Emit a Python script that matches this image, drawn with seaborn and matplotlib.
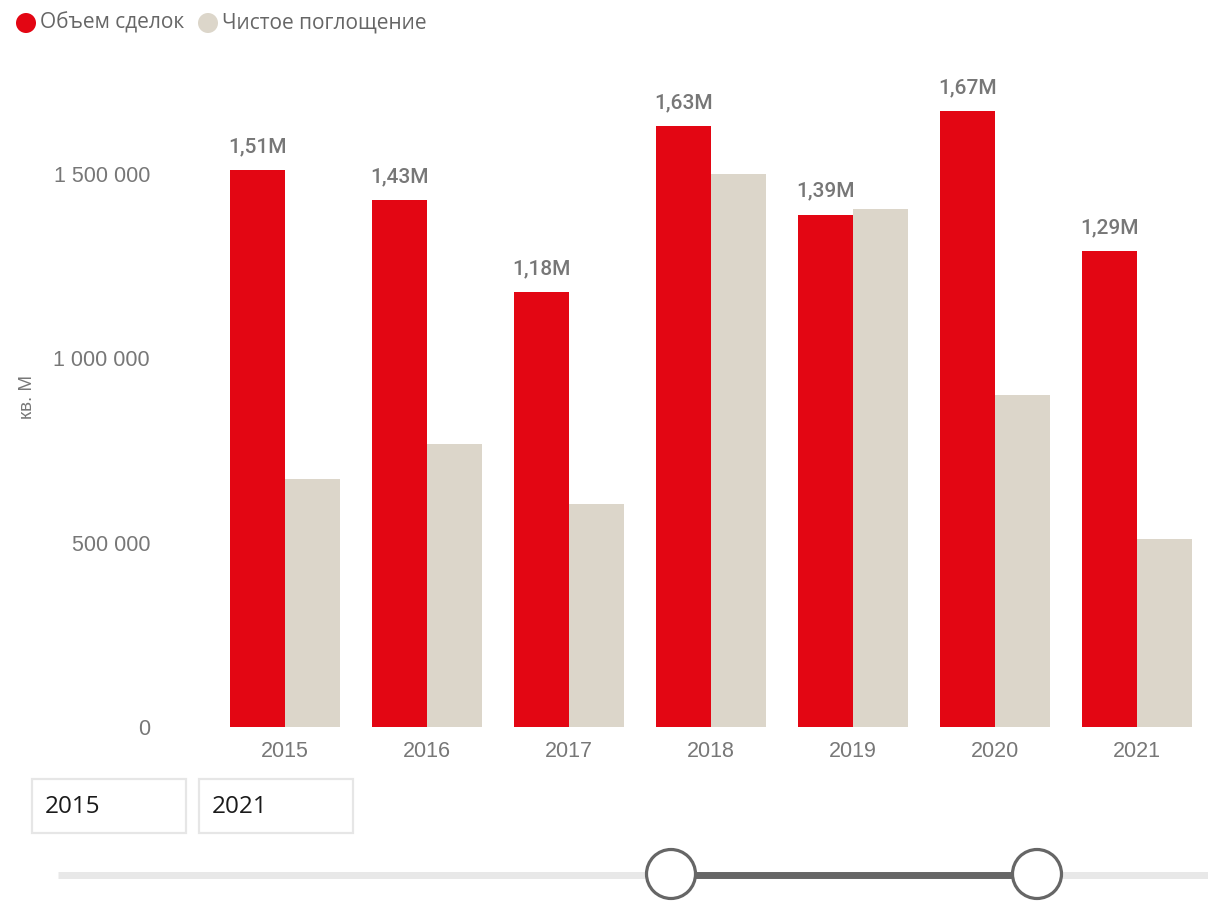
import matplotlib
matplotlib.use("Agg")
import matplotlib.pyplot as plt
from matplotlib.patches import Circle, Rectangle
from matplotlib.lines import Line2D
import seaborn as sns
import pandas as pd

# Data
years = ["2015", "2016", "2017", "2018", "2019", "2020", "2021"]
deal_volume = [1_510_000, 1_430_000, 1_180_000, 1_630_000, 1_390_000, 1_670_000, 1_290_000]
net_absorption = [672_000, 767_000, 604_000, 1_499_000, 1_406_000, 900_000, 509_000]
series_names = ["Объем сделок", "Чистое поглощение"]
deal_labels = ["1,51M", "1,43M", "1,18M", "1,63M", "1,39M", "1,67M", "1,29M"]
y_ticks = [0, 500_000, 1_000_000, 1_500_000]
y_tick_labels = ["0", "500 000", "1 000 000", "1 500 000"]
range_start, range_end = "2015", "2021"

RED = "#E30613"
BEIGE = "#DCD6CA"
TEXT_GREY = "#777777"

sns.set_theme(style="white")
plt.rcParams["font.family"] = ["Liberation Sans", "DejaVu Sans"]

df = pd.DataFrame({
    "year": years * 2,
    "series": [series_names[0]] * len(years) + [series_names[1]] * len(years),
    "value": deal_volume + net_absorption,
})

W, H = 1208, 902
fig = plt.figure(figsize=(W / 100, H / 100), dpi=100)

# Main chart area
ax = fig.add_axes([214 / W, 1 - 727 / H, (W - 214) / W, (727 - 63.4) / H])
sns.barplot(data=df, x="year", y="value", hue="series", order=years,
            hue_order=series_names, palette=[RED, BEIGE], width=0.78,
            gap=0, saturation=1, legend=False, linewidth=0, edgecolor="none",
            ax=ax)
ax.set_xlim(-0.5, len(years) - 0.5)
ax.set_ylim(0, 1_800_000)
ax.set_yticks(y_ticks)
ax.set_yticklabels(y_tick_labels)
ax.tick_params(axis="y", length=0, pad=46, labelsize=15.5, labelcolor=TEXT_GREY)
ax.tick_params(axis="x", length=0, pad=10, labelsize=15.5, labelcolor=TEXT_GREY)
ax.set_xlabel("")
ax.set_ylabel("")
for s in ax.spines.values():
    s.set_visible(False)
ax.grid(False)

# Value labels over the deal-volume bars
red_bars = ax.containers[0]
for bar, lab in zip(red_bars, deal_labels):
    ax.annotate(lab, (bar.get_x() + bar.get_width() / 2, bar.get_height()),
                xytext=(0, 10), textcoords="offset points", ha="center",
                va="bottom", fontsize=15, color=TEXT_GREY, family="Roboto",
                fontweight="medium")

fig.text(27 / W, 1 - 397 / H, "кв. М", rotation=90, ha="center", va="center",
         fontsize=13.5, color=TEXT_GREY)

# Overlay in pixel coordinates for legend and range slicer
ov = fig.add_axes([0, 0, 1, 1], zorder=5)
ov.set_xlim(0, W)
ov.set_ylim(H, 0)
ov.axis("off")
ov.patch.set_alpha(0)

# Legend
for cx, tx, col, name in [(26, 40, RED, series_names[0]), (208, 222, BEIGE, series_names[1])]:
    ov.add_patch(Circle((cx, 23), 10, facecolor=col, edgecolor="none"))
    ov.text(tx, 23, name, ha="left", va="center", fontsize=15, color="#666666",
            family="Open Sans")

# Range slicer input boxes
for x0, txt in [(32, range_start), (199, range_end)]:
    ov.add_patch(Rectangle((x0, 779), 154, 54, facecolor="white",
                           edgecolor="#E6E6E6", linewidth=1.6))
    ov.text(x0 + 13, 807, txt, ha="left", va="center", fontsize=17.5,
            color="#1a1a1a", family="Open Sans")

# Slider track and handles
ov.add_line(Line2D([58, W], [874.5, 874.5], color="#E8E8E8", linewidth=5,
                   solid_capstyle="butt", zorder=1))
ov.add_line(Line2D([671, 1037], [874.5, 874.5], color="#666666", linewidth=5,
                   solid_capstyle="butt", zorder=2))
for hx in (671, 1037):
    ov.add_patch(Circle((hx, 874), 24.5, facecolor="white", edgecolor="#666666",
                        linewidth=2.3, zorder=3))

fig.savefig("out.png", dpi=100)
